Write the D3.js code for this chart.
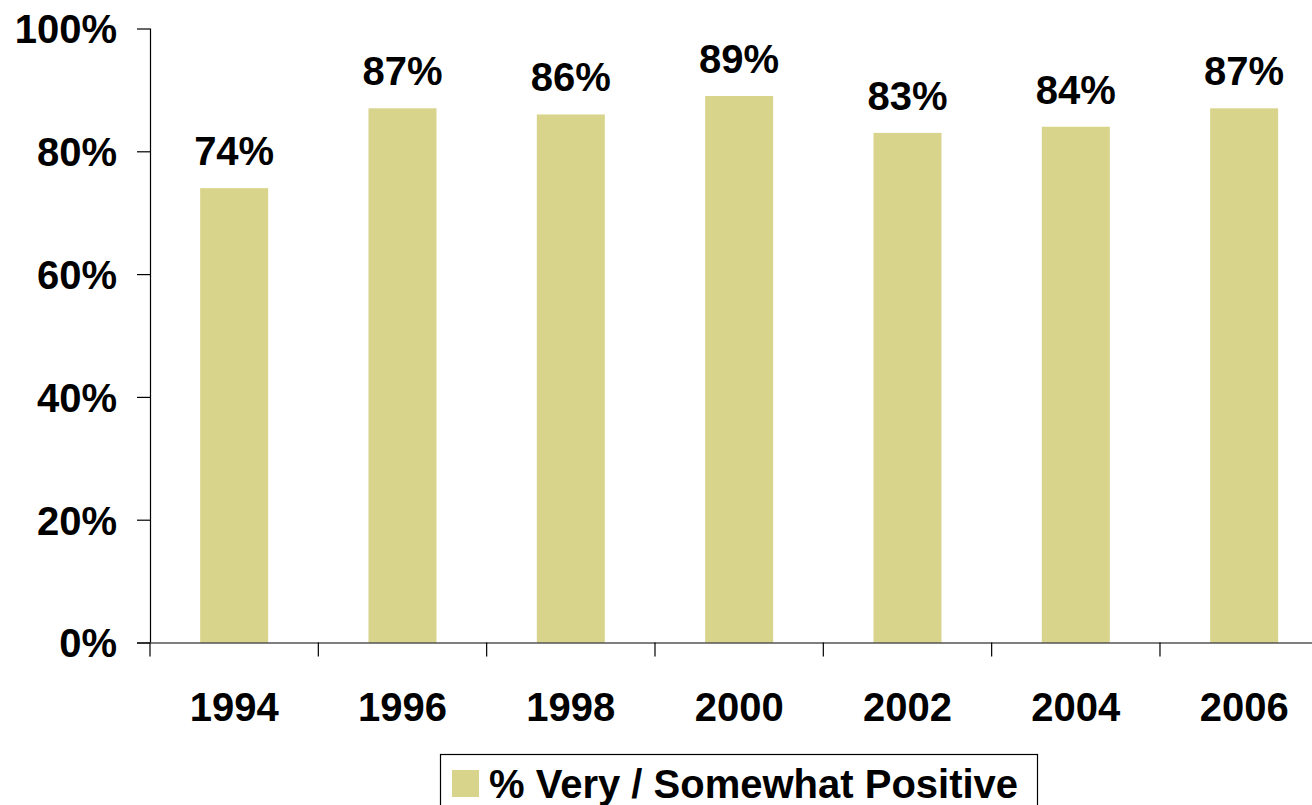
<!DOCTYPE html>
<html>
<head>
<meta charset="utf-8">
<script src="https://cdn.jsdelivr.net/npm/d3@7/dist/d3.min.js"></script>
<style>
  html, body { margin: 0; padding: 0; background: #fff; }
  svg { display: block; }
  text { font-family: "Liberation Sans", Arial, sans-serif; font-weight: bold; fill: #000; }
</style>
</head>
<body>
<svg id="chart" width="1312" height="805"></svg>
<script>
// Survey results by year
const years = ["1994", "1996", "1998", "2000", "2002", "2004", "2006"];
const positive = [74, 87, 86, 89, 83, 84, 87];
const yTicks = [0, 20, 40, 60, 80, 100];
const seriesName = "% Very / Somewhat Positive";

const barColor = "#D8D48B";
const svg = d3.select("#chart");

const plotLeft = 150, plotTop = 28.5, plotBottom = 642.5;
const step = 168.33;
const plotRight = plotLeft + step * years.length;

const x = d3.scaleBand()
  .domain(years)
  .range([plotLeft, plotRight])
  .paddingInner(0.596)
  .paddingOuter(0.298);

const y = d3.scaleLinear().domain([0, 100]).range([plotBottom, plotTop]);

// Bars
svg.append("g").selectAll("rect")
  .data(years)
  .join("rect")
  .attr("x", d => x(d))
  .attr("width", x.bandwidth())
  .attr("y", (d, i) => y(positive[i]))
  .attr("height", (d, i) => y(0) - y(positive[i]))
  .attr("fill", barColor);

// Value labels
svg.append("g").selectAll("text")
  .data(years)
  .join("text")
  .attr("x", d => x(d) + x.bandwidth() / 2)
  .attr("y", (d, i) => y(positive[i]) - 23)
  .attr("text-anchor", "middle")
  .attr("font-size", 40)
  .text((d, i) => positive[i] + "%");

// Y axis
const yAxis = svg.append("g")
  .attr("transform", `translate(${plotLeft},0)`)
  .call(d3.axisLeft(y).tickValues(yTicks).tickSize(13).tickPadding(20)
    .tickFormat(d => d + "%"));
yAxis.selectAll("path, line").attr("stroke", "#000").attr("stroke-width", 1.2);
yAxis.select(".domain").attr("d", `M0.5,${plotTop}V${plotBottom}`);
yAxis.selectAll("text")
  .attr("font-size", 40)
  .attr("font-family", "Liberation Sans, Arial, sans-serif")
  .attr("font-weight", "bold")
  .attr("fill", "#000")
  .attr("dy", "0.36em");

// X axis with category labels, ticks on category boundaries
const gap = (x.step() - x.bandwidth()) / 2;
const bounds = years.map(d => x(d) - gap).concat([plotRight]);
const xAxis = svg.append("g")
  .attr("transform", `translate(0,${plotBottom})`)
  .call(d3.axisBottom(x).tickSize(0).tickPadding(50));
xAxis.select(".domain").attr("stroke", "#000").attr("stroke-width", 1.2)
  .attr("d", `M${plotLeft - 13},0.5H${plotRight}`);
xAxis.selectAll("text")
  .attr("font-size", 40)
  .attr("font-family", "Liberation Sans, Arial, sans-serif")
  .attr("font-weight", "bold")
  .attr("fill", "#000");
xAxis.selectAll(".boundary")
  .data(bounds)
  .join("line")
  .attr("class", "boundary")
  .attr("x1", d => d).attr("x2", d => d)
  .attr("y1", 0).attr("y2", 14)
  .attr("stroke", "#000").attr("stroke-width", 1.2);

// Legend
const legend = svg.append("g").attr("transform", "translate(440,754)");
legend.append("rect")
  .attr("x", 0.5).attr("y", 0.5)
  .attr("width", 597).attr("height", 60)
  .attr("fill", "#fff").attr("stroke", "#000").attr("stroke-width", 1.2);
legend.append("rect")
  .attr("x", 12).attr("y", 16)
  .attr("width", 27).attr("height", 27)
  .attr("fill", barColor);
legend.append("text")
  .attr("x", 49).attr("y", 44)
  .attr("font-size", 40)
  .text(seriesName);
</script>
</body>
</html>
